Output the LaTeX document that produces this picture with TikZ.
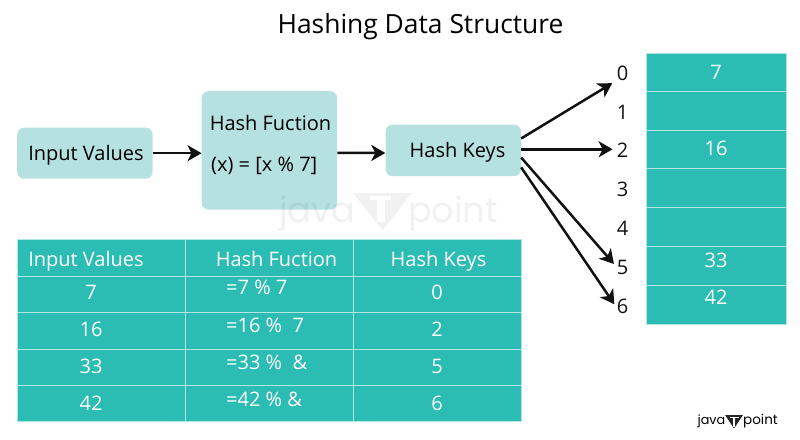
\documentclass[tikz,border=0pt]{standalone}
\usepackage{fontspec}
\setmainfont{Open Sans}
\newfontfamily\logofont{Poppins}
\usetikzlibrary{arrows.meta}
\definecolor{tealcell}{HTML}{2BBCB3}
\definecolor{palebox}{HTML}{B5E1E0}
\definecolor{gridline}{HTML}{B2E6E2}
\definecolor{inkblack}{HTML}{111111}
\tikzset{
  flowbox/.style={draw=none,fill=palebox,rounded corners=7pt,anchor=north west,inner sep=0pt},
  boxtext/.style={text=black,inner sep=0pt,anchor=base,font=\fontsize{20}{22}\selectfont},
  cell/.style={draw=gridline,line width=0.7pt,fill=tealcell,anchor=north west,inner sep=0pt},
  celltext/.style={text=white,inner sep=0pt,anchor=base,font=\fontsize{20}{22}\selectfont},
  digit/.style={text=inkblack,inner sep=0pt,font=\fontsize{20}{22}\selectfont},
  flow/.style={draw=inkblack,line width=2.5pt,-{Stealth[length=14pt,width=16pt,inset=4pt]}},
  wmark/.style={text=black,text opacity=0.055,inner sep=0pt,font=\logofont\fontsize{35}{40}\selectfont},
}
\begin{document}
\begin{tikzpicture}[x=1pt,y=-1pt]
\useasboundingbox (0,0) rectangle (800,439);
% title
\node[text=black,inner sep=0pt,anchor=base,font=\fontsize{26.4}{28}\selectfont] (title) at (420.5,33) {Hashing Data Structure};
% flow boxes
\node[flowbox,minimum width=135.5pt,minimum height=51pt] (input) at (17,127.5) {};
\node[flowbox,minimum width=135.5pt,minimum height=118.5pt] (hash) at (201.5,91) {};
\node[flowbox,minimum width=135.5pt,minimum height=51.5pt] (keys) at (385.3,124.5) {};
\node[boxtext] (inputtxt) at (86,160) {Input Values};
\node[boxtext] (hashtxt) at (270.5,130) {Hash Fuction};
\node[boxtext,anchor=base west] (hashform) at (211,171) {(x) = [x \% 7]};
\node[boxtext] (keystxt) at (457.5,157) {Hash Keys};
% watermark
\node[wmark,anchor=base east] (wmjava) at (355,222) {java};
\node[wmark,anchor=base west] (wmpoint) at (408,222) {point};
\fill[black,opacity=0.055] (353,193) -- (412,193) -- (382.5,230) -- cycle;
\fill[white] (370,195.5) rectangle (391,200);
\fill[white] (377,195.5) rectangle (385,222);
% left table
\foreach \x/\w/\c in {17/168/0,185/167.5/1,352.5/168/2}{
  \foreach \y/\h/\r in {238.5/37/0,275.5/36.5/1,312/36.5/2,348.5/36.5/3,385/36/4}{
    \node[cell,minimum width=\w pt,minimum height=\h pt] (t\r c\c) at (\x,\y) {};
  }
}
\node[celltext] (h0) at (86,266) {Input Values};
\node[celltext] (h1) at (276.5,266) {Hash Fuction};
\node[celltext] (h2) at (438.5,266) {Hash Keys};
\foreach \y/\a/\b in {299/7/0,336/16/2,373/33/5,410/42/6}{
  \node[celltext] (a\a) at (91,\y) {\a};
  \node[celltext] (b\a) at (437,\y) {\b};
}
\node[celltext,anchor=base west] (f7) at (226,294) {=7 \% 7};
\node[celltext,anchor=base west] (f16) at (226,332) {=16 \%\ \ 7};
\node[celltext,anchor=base west] (f33) at (226,369) {=33 \%\ \ \&};
\node[celltext,anchor=base west] (f42) at (226,406) {=42 \% \&};
% right table
\foreach \y/\h/\r in {52.7/38.6/0,91.3/38.4/1,129.7/38.6/2,168.3/38.8/3,207.1/39.1/4,246.2/38.8/5,285/38.7/6}{
  \node[cell,minimum width=140pt,minimum height=\h pt] (s\r) at (646,\y) {};
}
\node[celltext] (v7) at (716,79.5) {7};
\node[celltext] (v16) at (716,155.5) {16};
\node[celltext] (v33) at (716,267.5) {33};
\node[celltext] (v42) at (716,304.5) {42};
% digits
\foreach \d/\y in {0/73,1/112,2/150,3/189,4/228,5/267,6/306}{
  \node[digit] (d\d) at (622.5,\y) {\d};
}
% connectors
\draw[flow] (input.east) -- (hash.west |- input.east);
\draw[flow] (hash.east |- keys.east) ++(0,2.5) -- (keys.west |- 0,153);
\draw[flow,shorten >=5pt] (keys.10) -- (d0.south west);
\draw[flow,shorten >=4pt] (keys.1) -- (keys.1 -| d2.west);
\draw[flow,shorten >=4pt] (keys.-6) -- (d5.west);
\draw[flow,shorten >=4pt] (keys.-14) -- (d6.195);
% logo
\node[text=black,inner sep=0pt,anchor=east,font=\logofont\fontsize{12.8}{15}\selectfont] (lgjava) at (725.5,421) {java};
\node[text=black,inner sep=0pt,anchor=west,font=\logofont\fontsize{13.5}{15}\selectfont] (lgpoint) at (743,421) {point};
\fill[black!85] (725,415) -- (743,415) -- (734,428.5) -- cycle;
\fill[white] (729.5,416.5) rectangle (738.5,418);
\fill[white] (733,416.5) rectangle (735,426.5);
\end{tikzpicture}
\end{document}
